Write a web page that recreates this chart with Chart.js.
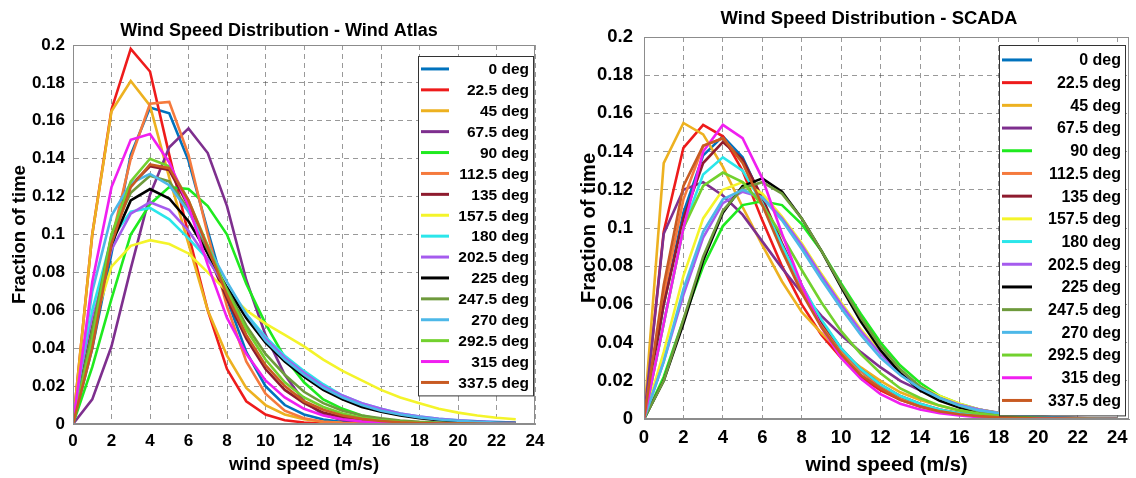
<!DOCTYPE html>
<html>
<head>
<meta charset="utf-8">
<script src="https://cdn.jsdelivr.net/npm/chart.js@4.4.1/dist/chart.umd.min.js"></script>
<style>
  html, body { margin: 0; padding: 0; background: #fff; }
  #wrap { position: relative; width: 1136px; height: 478px; }
  #boxA { position: absolute; left: 0; top: 0; width: 560px; height: 478px; }
  #boxB { position: absolute; left: 568px; top: 0; width: 568px; height: 478px; }
</style>
</head>
<body>
<div id="wrap">
  <div id="boxA"><canvas id="chartA"></canvas></div>
  <div id="boxB"><canvas id="chartB"></canvas></div>
</div>
<script>
'use strict'

// wind direction sectors (legend text)
let directions = ['0 deg', '22.5 deg', '45 deg', '67.5 deg', '90 deg', '112.5 deg', '135 deg', '157.5 deg',
  '180 deg', '202.5 deg', '225 deg', '247.5 deg', '270 deg', '292.5 deg', '315 deg', '337.5 deg'];
let dirColors = ['#0072BD', '#EE1B1B', '#EDB120', '#7E2F8E', '#1FEA1F', '#F57A3D', '#8E1B2E', '#F4F42A',
  '#2BE6EA', '#A55BEE', '#000000', '#6E9A3C', '#4DB8E8', '#72D12E', '#F01FF0', '#C85A22'];

let yTicks = [0, 0.02, 0.04, 0.06, 0.08, 0.1, 0.12, 0.14, 0.16, 0.18, 0.2];
let xTicks = [0, 2, 4, 6, 8, 10, 12, 14, 16, 18, 20, 22, 24];

// ---- Wind Atlas (speeds 0..23 m/s)
let atlasSpeeds = [0, 1, 2, 3, 4, 5, 6, 7, 8, 9, 10, 11, 12, 13, 14, 15, 16, 17, 18, 19, 20, 21, 22, 23];
let atlas_0 = [0, 0.04, 0.09, 0.142, 0.167, 0.164, 0.139, 0.102, 0.066, 0.038, 0.02, 0.01, 0.005, 0.0024, 0.0011, 0.0005, 0.0002, 0.0001, 0, 0, 0, 0, 0, 0];
let atlas_22_5 = [0, 0.10, 0.166, 0.198, 0.186, 0.142, 0.10, 0.06, 0.029, 0.012, 0.005, 0.002, 0.0008, 0.0003, 0.0001, 0, 0, 0, 0, 0, 0, 0, 0, 0];
let atlas_45 = [0, 0.10, 0.165, 0.181, 0.168, 0.13, 0.095, 0.06, 0.036, 0.019, 0.01, 0.005, 0.0025, 0.0012, 0.0006, 0.0003, 0.0001, 0, 0, 0, 0, 0, 0, 0];
let atlas_67_5 = [0, 0.013, 0.041, 0.082, 0.121, 0.146, 0.156, 0.143, 0.115, 0.076, 0.047, 0.026, 0.012, 0.005, 0.002, 0.001, 0.0004, 0.0002, 0, 0, 0, 0, 0, 0];
let atlas_90 = [0, 0.03, 0.066, 0.1, 0.116, 0.125, 0.124, 0.115, 0.1, 0.074, 0.053, 0.035, 0.022, 0.013, 0.008, 0.0045, 0.0025, 0.0013, 0.0007, 0.0003, 0.0002, 0.0001, 0, 0];
let atlas_112_5 = [0, 0.045, 0.097, 0.14, 0.169, 0.17, 0.142, 0.1, 0.062, 0.033, 0.016, 0.007, 0.003, 0.0012, 0.0005, 0.0002, 0.0001, 0, 0, 0, 0, 0, 0, 0];
let atlas_135 = [0, 0.05, 0.098, 0.126, 0.136, 0.134, 0.115, 0.09, 0.066, 0.045, 0.029, 0.018, 0.011, 0.006, 0.0035, 0.002, 0.001, 0.0006, 0.0003, 0.0002, 0.0001, 0, 0, 0];
let atlas_157_5 = [0, 0.05, 0.083, 0.094, 0.097, 0.095, 0.09, 0.08, 0.07, 0.06, 0.053, 0.047, 0.041, 0.034, 0.028, 0.023, 0.018, 0.014, 0.011, 0.008, 0.006, 0.0045, 0.0033, 0.0025];
let atlas_180 = [0, 0.06, 0.098, 0.112, 0.114, 0.108, 0.098, 0.087, 0.072, 0.058, 0.046, 0.036, 0.028, 0.021, 0.015, 0.011, 0.008, 0.0055, 0.004, 0.0028, 0.002, 0.0014, 0.001, 0.0007];
let atlas_202_5 = [0, 0.055, 0.092, 0.111, 0.117, 0.113, 0.102, 0.087, 0.071, 0.057, 0.045, 0.035, 0.027, 0.02, 0.015, 0.011, 0.008, 0.0055, 0.004, 0.0028, 0.002, 0.0014, 0.001, 0.0007];
let atlas_225 = [0, 0.05, 0.095, 0.118, 0.124, 0.119, 0.107, 0.09, 0.072, 0.056, 0.043, 0.033, 0.025, 0.018, 0.013, 0.009, 0.0065, 0.0045, 0.003, 0.002, 0.0014, 0.001, 0.0007, 0.0005];
let atlas_247_5 = [0, 0.05, 0.1, 0.122, 0.131, 0.128, 0.113, 0.092, 0.071, 0.052, 0.037, 0.026, 0.017, 0.011, 0.007, 0.0045, 0.003, 0.0018, 0.0011, 0.0007, 0.0004, 0.0002, 0.0001, 0];
let atlas_270 = [0, 0.07, 0.11, 0.127, 0.132, 0.126, 0.112, 0.094, 0.075, 0.058, 0.044, 0.034, 0.026, 0.019, 0.014, 0.01, 0.007, 0.005, 0.0035, 0.0024, 0.0017, 0.0012, 0.0008, 0.0005];
let atlas_292_5 = [0, 0.045, 0.1, 0.128, 0.14, 0.136, 0.118, 0.094, 0.07, 0.05, 0.034, 0.022, 0.014, 0.009, 0.0055, 0.0033, 0.002, 0.0012, 0.0007, 0.0004, 0.0002, 0.0001, 0, 0];
let atlas_315 = [0, 0.075, 0.125, 0.15, 0.153, 0.138, 0.115, 0.084, 0.056, 0.037, 0.023, 0.014, 0.008, 0.0045, 0.0025, 0.0014, 0.0008, 0.0004, 0.0002, 0.0001, 0, 0, 0, 0];
let atlas_337_5 = [0, 0.04, 0.095, 0.125, 0.137, 0.135, 0.118, 0.093, 0.068, 0.047, 0.031, 0.02, 0.012, 0.0075, 0.0045, 0.0027, 0.0016, 0.0009, 0.0005, 0.0003, 0.0002, 0.0001, 0, 0];

// ---- SCADA (speeds 0..24 m/s)
let scadaSpeeds = [0, 1, 2, 3, 4, 5, 6, 7, 8, 9, 10, 11, 12, 13, 14, 15, 16, 17, 18, 19, 20, 21, 22, 23, 24];
let scada_0 = [0, 0.06, 0.108, 0.138, 0.148, 0.137, 0.115, 0.09, 0.068, 0.05, 0.036, 0.025, 0.017, 0.011, 0.007, 0.0045, 0.0028, 0.0017, 0.001, 0.0006, 0.0004, 0.0002, 0.0001, 0.0001, 0];
let scada_22_5 = [0, 0.098, 0.142, 0.154, 0.148, 0.13, 0.104, 0.08, 0.06, 0.044, 0.032, 0.022, 0.015, 0.01, 0.0065, 0.004, 0.0025, 0.0015, 0.0009, 0.0005, 0.0003, 0.0002, 0.0001, 0, 0];
let scada_45 = [0, 0.134, 0.155, 0.149, 0.132, 0.111, 0.091, 0.072, 0.056, 0.045, 0.035, 0.027, 0.02, 0.014, 0.01, 0.007, 0.0045, 0.003, 0.002, 0.0012, 0.0007, 0.0004, 0.0002, 0.0001, 0];
let scada_67_5 = [0, 0.097, 0.12, 0.124, 0.117, 0.107, 0.093, 0.079, 0.066, 0.054, 0.044, 0.035, 0.027, 0.02, 0.015, 0.011, 0.0075, 0.005, 0.0033, 0.0021, 0.0013, 0.0008, 0.0005, 0.0003, 0.0002];
let scada_90 = [0, 0.022, 0.052, 0.08, 0.101, 0.112, 0.114, 0.112, 0.102, 0.088, 0.071, 0.055, 0.04, 0.028, 0.019, 0.012, 0.008, 0.005, 0.003, 0.0018, 0.0011, 0.0006, 0.0004, 0.0002, 0.0001];
let scada_112_5 = [0, 0.065, 0.115, 0.143, 0.147, 0.135, 0.113, 0.089, 0.068, 0.05, 0.036, 0.025, 0.017, 0.011, 0.007, 0.0045, 0.0028, 0.0017, 0.001, 0.0006, 0.0004, 0.0002, 0.0001, 0, 0];
let scada_135 = [0, 0.06, 0.105, 0.134, 0.145, 0.136, 0.116, 0.092, 0.07, 0.051, 0.037, 0.026, 0.018, 0.012, 0.008, 0.005, 0.003, 0.0018, 0.0011, 0.0006, 0.0004, 0.0002, 0.0001, 0, 0];
let scada_157_5 = [0, 0.035, 0.075, 0.105, 0.12, 0.124, 0.118, 0.106, 0.092, 0.076, 0.061, 0.047, 0.035, 0.025, 0.017, 0.012, 0.008, 0.005, 0.003, 0.002, 0.0012, 0.0007, 0.0004, 0.0002, 0.0001];
let scada_180 = [0, 0.05, 0.1, 0.128, 0.137, 0.13, 0.113, 0.091, 0.07, 0.052, 0.037, 0.026, 0.018, 0.012, 0.008, 0.005, 0.003, 0.002, 0.0012, 0.0007, 0.0004, 0.0002, 0.0001, 0, 0];
let scada_202_5 = [0, 0.03, 0.065, 0.095, 0.113, 0.119, 0.116, 0.105, 0.091, 0.075, 0.06, 0.046, 0.034, 0.024, 0.017, 0.011, 0.0075, 0.005, 0.003, 0.002, 0.0012, 0.0007, 0.0004, 0.0002, 0.0001];
let scada_225 = [0, 0.02, 0.05, 0.083, 0.108, 0.122, 0.126, 0.119, 0.105, 0.088, 0.069, 0.051, 0.036, 0.024, 0.015, 0.0095, 0.006, 0.0035, 0.002, 0.0012, 0.0007, 0.0004, 0.0002, 0.0001, 0];
let scada_247_5 = [0, 0.02, 0.052, 0.085, 0.109, 0.121, 0.124, 0.118, 0.105, 0.088, 0.07, 0.053, 0.038, 0.026, 0.017, 0.011, 0.007, 0.004, 0.0025, 0.0015, 0.0009, 0.0005, 0.0003, 0.0002, 0.0001];
let scada_270 = [0, 0.03, 0.068, 0.098, 0.115, 0.12, 0.116, 0.104, 0.089, 0.073, 0.058, 0.044, 0.032, 0.023, 0.016, 0.011, 0.007, 0.0045, 0.003, 0.0018, 0.0011, 0.0007, 0.0004, 0.0002, 0.0001];
let scada_292_5 = [0, 0.05, 0.1, 0.122, 0.129, 0.124, 0.112, 0.096, 0.078, 0.061, 0.046, 0.034, 0.024, 0.016, 0.011, 0.007, 0.0045, 0.0028, 0.0017, 0.001, 0.0006, 0.0003, 0.0002, 0.0001, 0];
let scada_315 = [0, 0.05, 0.1, 0.14, 0.154, 0.147, 0.126, 0.097, 0.07, 0.048, 0.032, 0.021, 0.013, 0.008, 0.005, 0.003, 0.0018, 0.001, 0.0006, 0.0003, 0.0002, 0.0001, 0, 0, 0];
let scada_337_5 = [0, 0.07, 0.122, 0.143, 0.147, 0.134, 0.112, 0.088, 0.066, 0.048, 0.034, 0.023, 0.016, 0.01, 0.0065, 0.004, 0.0025, 0.0015, 0.0009, 0.0005, 0.0003, 0.0002, 0.0001, 0, 0];

let atlasSeries = [atlas_0, atlas_22_5, atlas_45, atlas_67_5, atlas_90, atlas_112_5, atlas_135, atlas_157_5,
  atlas_180, atlas_202_5, atlas_225, atlas_247_5, atlas_270, atlas_292_5, atlas_315, atlas_337_5];
let scadaSeries = [scada_0, scada_22_5, scada_45, scada_67_5, scada_90, scada_112_5, scada_135, scada_157_5,
  scada_180, scada_202_5, scada_225, scada_247_5, scada_270, scada_292_5, scada_315, scada_337_5];

const FONT = 'Liberation Sans, Arial, sans-serif';

// title above plot, box frame, and the legend drawn inside the plot
const plotDecor = {
  id: 'plotDecor',
  afterDatasetsDraw(chart, args, o) {
    const ctx = chart.ctx, a = chart.chartArea;
    ctx.save();
    ctx.strokeStyle = '#8c8c8c';
    ctx.lineWidth = 1;
    ctx.strokeRect(a.left + 0.5, a.top + 0.5, a.right - a.left - 1, a.bottom - a.top - 1);

    ctx.fillStyle = '#000';
    ctx.font = 'bold ' + o.titleSize + 'px ' + FONT;
    ctx.textAlign = 'center';
    ctx.textBaseline = 'middle';
    ctx.fillText(o.title, o.titleX, a.top - o.titleGap);

    // legend box
    const n = chart.data.datasets.length;
    const bx = a.right - o.lgRight - o.lgWidth;
    const by = a.top + o.lgTop;
    const bh = o.lgPad * 2 + o.rowH * n;
    ctx.fillStyle = '#fff';
    ctx.fillRect(bx, by, o.lgWidth, bh);
    ctx.strokeStyle = '#333';
    ctx.strokeRect(bx + 0.5, by + 0.5, o.lgWidth, bh);
    ctx.font = 'bold ' + o.lgFont + 'px ' + FONT;
    ctx.textAlign = 'right';
    chart.data.datasets.forEach((ds, i) => {
      const yy = by + o.lgPad + o.rowH * (i + 0.5);
      ctx.strokeStyle = ds.borderColor;
      ctx.lineWidth = 3;
      ctx.beginPath();
      ctx.moveTo(bx + 3, yy);
      ctx.lineTo(bx + 3 + o.lineLen, yy);
      ctx.stroke();
      ctx.fillStyle = '#000';
      ctx.fillText(ds.label, bx + o.lgWidth - 4, yy + 1);
    });
    ctx.restore();
  }
};

function makeChart(id, speeds, series, xMax, lay, decor) {
  let n = series.length;
  let datasets = series.map((vals, i) => ({
    label: directions[i],
    data: speeds.map((s, k) => ({ x: s, y: vals[k] })),
    borderColor: dirColors[i],
    borderWidth: 2.6,
    pointRadius: 0,
    tension: 0,
    fill: false,
    order: n - 1 - i
  }));
  return new Chart(document.getElementById(id), {
    type: 'line',
    data: { datasets: datasets },
    plugins: [plotDecor],
    options: {
      responsive: true,
      maintainAspectRatio: false,
      animation: false,
      devicePixelRatio: 1,
      layout: { padding: { top: lay.top, right: lay.right, left: 0, bottom: 0 } },
      plugins: {
        legend: { display: false },
        tooltip: { enabled: false },
        plotDecor: decor
      },
      scales: {
        x: {
          type: 'linear',
          min: 0,
          max: xMax,
          afterBuildTicks: s => { s.ticks = xTicks.map(v => ({ value: v })); },
          afterFit: s => { s.height = lay.xh; },
          ticks: { color: '#000', padding: lay.xPad, font: { family: FONT, size: lay.tick, weight: 'bold' } },
          grid: { color: 'rgba(70,70,70,0.55)', drawTicks: false },
          border: { display: true, color: '#8c8c8c', dash: [5, 4] },
          title: { display: true, text: 'wind speed (m/s)', color: '#000', padding: { top: 2, bottom: lay.xtPad },
                   font: { family: FONT, size: lay.axis, weight: 'bold' } }
        },
        y: {
          min: 0,
          max: 0.2,
          afterBuildTicks: s => { s.ticks = yTicks.map(v => ({ value: v })); },
          afterFit: s => { s.width = lay.yw; },
          ticks: { color: '#000', padding: lay.yPad, callback: v => String(+Number(v).toFixed(2)),
                   font: { family: FONT, size: lay.tick, weight: 'bold' } },
          grid: { color: 'rgba(70,70,70,0.55)', drawTicks: false },
          border: { display: true, color: '#8c8c8c', dash: [5, 4] },
          title: { display: true, text: 'Fraction of time', color: '#000', padding: { top: 9, bottom: 2 },
                   font: { family: FONT, size: lay.axis, weight: 'bold' } }
        }
      }
    }
  });
}

makeChart('chartA', atlasSpeeds, atlasSeries, 24,
  { top: 45, right: 25, xh: 54, yw: 73, tick: 17, axis: 18.5, xPad: 7, yPad: 8, xtPad: 2 },
  { title: 'Wind Speed Distribution - Wind Atlas', titleSize: 18, titleX: 279, titleGap: 14,
    lgRight: 2, lgWidth: 115, lgTop: 11, lgPad: 2.5, rowH: 20.9, lgFont: 15.5, lineLen: 28 });

makeChart('chartB', scadaSpeeds, scadaSeries, 24.6,
  { top: 37, right: 7, xh: 59, yw: 76, tick: 18.5, axis: 20, xPad: 8, yPad: 11, xtPad: 1 },
  { title: 'Wind Speed Distribution - SCADA', titleSize: 18.5, titleX: 301, titleGap: 18,
    lgRight: 4, lgWidth: 126, lgTop: 8, lgPad: 3.6, rowH: 22.7, lgFont: 16, lineLen: 30 });
</script>
</body>
</html>
